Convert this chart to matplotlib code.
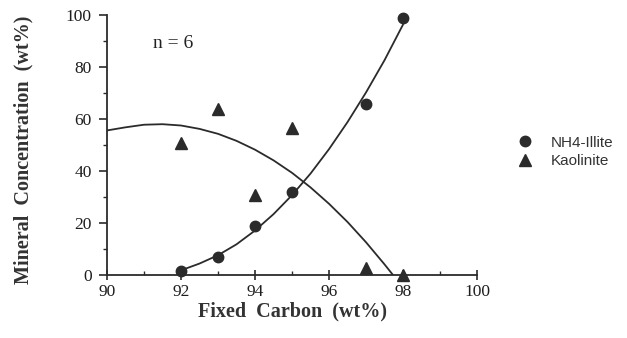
import numpy as np
import matplotlib
matplotlib.use("Agg")
import matplotlib.pyplot as plt
from matplotlib.ticker import MultipleLocator

# measured points
carbon = [92, 93, 94, 95, 97, 98]
illite = [1.7, 7.0, 18.8, 32.0, 65.8, 98.7]
kaolinite = [50.9, 63.7, 30.8, 56.4, 2.6, 0.0]

# trend curves
illite_curve_x = [92, 92.5, 93, 93.5, 94, 94.5, 95, 95.5, 96, 96.5, 97, 97.5, 98]
illite_curve_y = [1.8, 4.4, 7.6, 11.8, 17.1, 23.4, 30.7, 39.0, 48.4, 58.8, 70.2, 82.6, 96.3]
kaol_curve_x = [90, 90.5, 91, 91.5, 92, 92.5, 93, 93.5, 94, 94.5, 95, 95.5, 96, 96.5, 97, 97.5, 97.73]
kaol_curve_y = [55.6, 56.8, 57.8, 58.0, 57.5, 56.2, 54.3, 51.6, 48.2, 44.1, 39.3, 33.7, 27.4, 20.4, 12.6, 4.1, 0.0]

xticks = [90, 92, 94, 96, 98, 100]
yticks = [0, 20, 40, 60, 80, 100]

dark = "#2b2b2b"
serif = ["Liberation Serif", "DejaVu Serif"]

fig = plt.figure(figsize=(6.27, 3.38), dpi=100)
ax = fig.add_axes([107/627, 1-275/338, 370/627, 260/338])

ax.plot(illite_curve_x, illite_curve_y, color=dark, lw=1.3, zorder=2)
ax.plot(kaol_curve_x, kaol_curve_y, color=dark, lw=1.3, zorder=2)
ax.plot(carbon, illite, "o", color=dark, ms=7.5, ls="none", label="NH4-Illite", zorder=3, clip_on=False)
ax.plot(carbon, kaolinite, "^", color=dark, ms=8.5, ls="none", label="Kaolinite", zorder=3, clip_on=False)

ax.set_xlim(90, 100)
ax.set_ylim(0, 100)
ax.set_xticks(xticks)
ax.set_yticks(yticks)
ax.xaxis.set_minor_locator(MultipleLocator(1))
ax.yaxis.set_minor_locator(MultipleLocator(10))
ax.spines["top"].set_visible(False)
ax.spines["right"].set_visible(False)
for s in ["left", "bottom"]:
    ax.spines[s].set_linewidth(1.3)
    ax.spines[s].set_color(dark)
ax.tick_params(axis="x", which="major", direction="inout", length=7, width=1.2, pad=3, colors=dark)
ax.tick_params(axis="x", which="minor", direction="in", length=3, width=1.0, colors=dark)
ax.tick_params(axis="y", which="major", direction="out", length=6, width=1.2, pad=5, colors=dark)
ax.tick_params(axis="y", which="minor", direction="out", length=3, width=1.0, colors=dark)
for lab in ax.get_xticklabels() + ax.get_yticklabels():
    lab.set_family(serif)
    lab.set_fontsize(12.5)
    lab.set_color("#1e1e1e")

ax.set_xlabel("Fixed  Carbon  (wt%)", family=serif, fontweight="bold", fontsize=14.5, color="#333333", labelpad=1)
ax.set_ylabel("Mineral  Concentration  (wt%)", family=serif, fontweight="bold", fontsize=14.5, color="#333333")
ax.yaxis.set_label_coords(-0.2, 0.48)

ax.text(91.25, 89, "n = 6", family=serif, fontsize=14, va="center", color="#222222")

fig.legend(loc="center left", bbox_to_anchor=(517/627, 1-152/338), frameon=False,
           handlelength=1.0, handletextpad=1.2, labelspacing=0.3, borderpad=0, borderaxespad=0,
           prop={"family": ["Liberation Sans", "DejaVu Sans"], "size": 11}, labelcolor="#333333")

fig.savefig("out.png", dpi=100)
